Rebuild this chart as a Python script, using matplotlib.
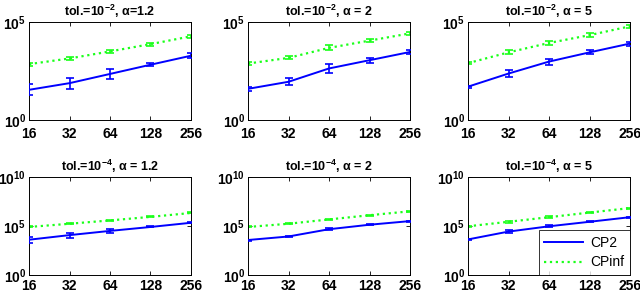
import numpy as np
import matplotlib
matplotlib.use("Agg")
import matplotlib.pyplot as plt
from matplotlib.lines import Line2D
from matplotlib.ticker import FixedLocator, FixedFormatter, NullLocator

plt.rcParams['font.family'] = ['Liberation Sans', 'DejaVu Sans']
plt.rcParams['mathtext.fontset'] = 'custom'
plt.rcParams['mathtext.rm'] = 'Liberation Sans:bold'
plt.rcParams['mathtext.it'] = 'Liberation Sans:bold'
plt.rcParams['mathtext.bf'] = 'Liberation Sans:bold'

n = [16, 32, 64, 128, 256]
titles = [r"tol.=10$^{-2}$, α=1.2", r"tol.=10$^{-2}$, α = 2", r"tol.=10$^{-2}$, α = 5",
          r"tol.=10$^{-4}$, α = 1.2", r"tol.=10$^{-4}$, α = 2", r"tol.=10$^{-4}$, α = 5"]

# log10 of mean cost
cp2_log = [
    [1.54, 1.88, 2.35, 2.82, 3.28],
    [1.59, 1.95, 2.63, 3.05, 3.47],
    [1.70, 2.37, 2.98, 3.45, 3.90],
    [3.60, 4.07, 4.50, 4.90, 5.33],
    [3.57, 3.93, 4.67, 5.13, 5.50],
    [3.63, 4.43, 4.97, 5.43, 5.90],
]
cpinf_log = [
    [2.85, 3.14, 3.50, 3.87, 4.27],
    [2.88, 3.17, 3.68, 4.05, 4.42],
    [2.90, 3.45, 3.93, 4.33, 4.78],
    [4.90, 5.23, 5.57, 5.93, 6.33],
    [4.90, 5.23, 5.67, 6.10, 6.50],
    [4.97, 5.43, 5.90, 6.37, 6.83],
]
# half-width of error bars (log10 units)
cp2_err = [
    [0.28, 0.28, 0.24, 0.09, 0.13],
    [0.10, 0.17, 0.22, 0.13, 0.10],
    [0.05, 0.20, 0.15, 0.10, 0.10],
    [0.30, 0.25, 0.18, 0.05, 0.05],
    [0.05, 0.10, 0.10, 0.05, 0.05],
    [0.05, 0.15, 0.10, 0.05, 0.05],
]
cpinf_err = [
    [0.07, 0.06, 0.06, 0.08, 0.07],
    [0.07, 0.07, 0.13, 0.08, 0.07],
    [0.05, 0.10, 0.08, 0.11, 0.07],
    [0.05, 0.05, 0.08, 0.05, 0.05],
    [0.05, 0.05, 0.08, 0.05, 0.05],
    [0.05, 0.08, 0.08, 0.05, 0.05],
]

blue = (0, 0, 1)
green = (0.1, 1, 0.1)

fig = plt.figure(figsize=(6.4, 2.94), dpi=100)
W, H = 640, 294
lefts = [29, 248, 468]
width = 162
rows = [(22, 98), (177, 98)]

for i in range(6):
    r, c = divmod(i, 3)
    top, h = rows[r]
    ax = fig.add_axes([lefts[c] / W, 1 - (top + h) / H, width / W, h / H])
    x = np.array(n)
    y2 = 10 ** np.array(cp2_log[i])
    yi = 10 ** np.array(cpinf_log[i])
    e2 = np.array(cp2_err[i])
    ei = np.array(cpinf_err[i])
    ax.errorbar(x, yi, yerr=[yi - yi / 10 ** ei, yi * 10 ** ei - yi], color=green,
                ls=':', lw=1.6, capsize=3, elinewidth=1.2, capthick=1.2, zorder=2)
    ax.errorbar(x, y2, yerr=[y2 - y2 / 10 ** e2, y2 * 10 ** e2 - y2], color=blue,
                ls='-', lw=1.4, capsize=3, elinewidth=1.2, capthick=1.2, zorder=3)
    ax.set_xscale('log', base=2)
    ax.set_yscale('log')
    ax.set_xlim(16, 256)
    if r == 0:
        ax.set_ylim(1, 1e5)
        yt = [1, 1e5]
        yl = [r"10$^{0}$", r"10$^{5}$"]
    else:
        ax.set_ylim(1, 1e10)
        yt = [1, 1e5, 1e10]
        yl = [r"10$^{0}$", r"10$^{5}$", r"10$^{10}$"]
    ax.xaxis.set_major_locator(FixedLocator(n))
    ax.xaxis.set_major_formatter(FixedFormatter([str(v) for v in n]))
    ax.xaxis.set_minor_locator(NullLocator())
    ax.yaxis.set_major_locator(FixedLocator(yt))
    ax.yaxis.set_major_formatter(FixedFormatter(yl))
    ax.yaxis.set_minor_locator(NullLocator())
    ax.tick_params(direction='in', length=3, width=0.6, top=True, right=True,
                   labelsize=10, pad=2)
    ax.tick_params(axis='x', pad=5 if r == 0 else 3)
    for lab in ax.get_xticklabels() + ax.get_yticklabels():
        lab.set_fontweight('bold')
    ax.set_title(titles[i], fontsize=9, fontweight='bold', pad=4)
    for s in ax.spines.values():
        s.set_linewidth(0.7)
    if i == 5:
        handles = [Line2D([], [], color=blue, lw=1.4, ls='-'),
                   Line2D([], [], color=green, lw=1.6, ls=':')]
        leg = ax.legend(handles, ['CP2', 'CPinf'], loc='lower right', fontsize=10,
                        frameon=True, fancybox=False, edgecolor='black',
                        borderaxespad=0, handlelength=2.8, borderpad=0.4,
                        labelspacing=0.4, handletextpad=0.5)
        leg.get_frame().set_linewidth(0.7)

fig.savefig("out.png", dpi=100)
